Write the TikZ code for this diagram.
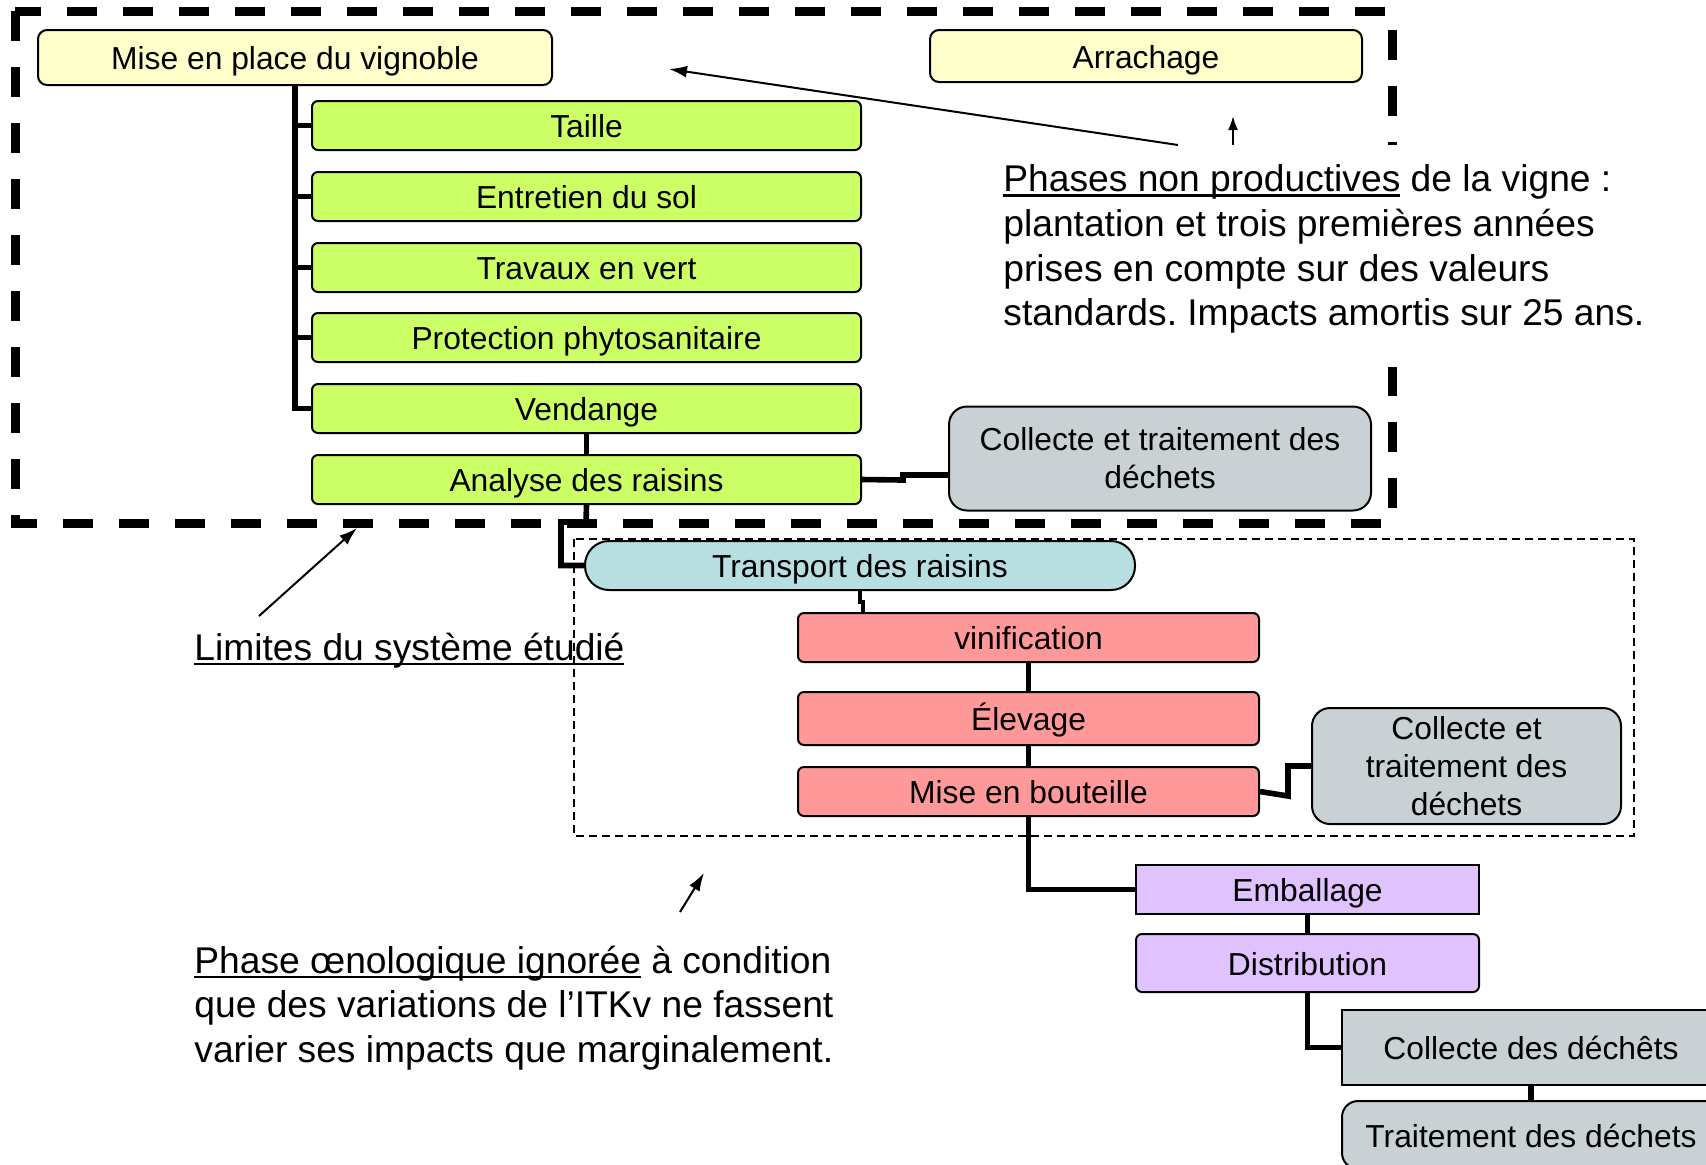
\documentclass[tikz,border=0pt]{standalone}
\usepackage{fontspec}
\setmainfont{Liberation Sans}
\usetikzlibrary{arrows.meta}
\definecolor{yel}{HTML}{FFFFCC}
\definecolor{grn}{HTML}{CCFF66}
\definecolor{gry}{HTML}{C9D1D5}
\definecolor{blu}{HTML}{B7DFE2}
\definecolor{sal}{HTML}{FF9999}
\definecolor{pur}{HTML}{E0C2FF}
\newcommand{\ulx}[1]{\setbox0=\hbox{#1}\rlap{\vrule height -1.3pt depth 2.5pt width \wd0}\box0\relax}
\frenchspacing
\begin{document}
\begin{tikzpicture}[x=0.5pt,y=-0.5pt,
  bx/.style={draw=black,line width=1pt,inner sep=0pt,font=\fontsize{15.9}{19}\selectfont,align=center},
  sl/.style={text height=13.5pt,text depth=1.5pt},
  ybox/.style={bx,sl,fill=yel,rounded corners=4.5pt},
  gbox/.style={bx,sl,fill=grn,rounded corners=3pt,minimum width=274.5pt,minimum height=24.5pt},
  cbox/.style={bx,fill=gry,rounded corners=9pt},
  tbox/.style={bx,sl,fill=blu,rounded corners=12pt},
  sbox/.style={bx,sl,fill=sal,rounded corners=3pt,minimum width=230.5pt},
  pbox/.style={bx,sl,fill=pur,minimum width=171.5pt},
  wbox/.style={bx,sl,fill=gry,minimum width=189pt},
  conn/.style={line width=2.8pt},
  thinconn/.style={line width=1.8pt},
  pointer/.style={line width=1pt,-{Latex[length=9pt,width=6pt]}},
  bigdash/.style={line width=4.5pt,dash pattern=on 15pt off 13pt},
  smalldash/.style={line width=0.8pt,dash pattern=on 4pt off 2.5pt},
  note/.style={font=\fontsize{18.6}{22.3}\selectfont,align=left,inner sep=0pt}
]
\useasboundingbox (0,0) rectangle (1706,1164);
\fill[white] (0,0) rectangle (1706,1164);

% system limits
\draw[bigdash] (15,11) rectangle (1392,523);
\draw[smalldash] (574,539) rectangle (1634,836);

% nodes
\node[ybox,minimum width=257pt,minimum height=27.5pt] (mise) at (295,57.5) {Mise en place du vignoble};
\node[ybox,minimum width=216pt,minimum height=26pt] (arr) at (1146,56) {Arrachage};
\node[gbox] (taille) at (586.5,125.5) {Taille};
\node[gbox] (entretien) at (586.5,196.5) {Entretien du sol};
\node[gbox] (travaux) at (586.5,267.5) {Travaux en vert};
\node[gbox] (protection) at (586.5,337.5) {Protection phytosanitaire};
\node[gbox] (vendange) at (586.5,408.5) {Vendange};
\node[gbox] (analyse) at (586.5,479.5) {Analyse des raisins};
\node[cbox,minimum width=211pt,minimum height=52pt] (collecte1) at (1160,458.5) {Collecte et traitement des\\déchets};
\node[tbox,minimum width=275pt,minimum height=24.5pt] (transport) at (860,565.5) {Transport des raisins};
\node[sbox,minimum height=24.5pt] (vinif) at (1028.5,637.5) {vinification};
\node[sbox,minimum height=26.5pt] (elevage) at (1028.5,718.5) {Élevage};
\node[sbox,minimum height=24.5pt] (bouteille) at (1028.5,791.5) {Mise en bouteille};
\node[cbox,minimum width=154.5pt,minimum height=58pt] (collecte2) at (1466.5,766) {Collecte et\\traitement des\\déchets};
\node[pbox,minimum height=24.5pt] (emballage) at (1307.5,889.5) {Emballage};
\node[pbox,rounded corners=3pt,minimum height=29pt] (distrib) at (1307.5,963) {Distribution};
\node[wbox,minimum height=37.5pt] (collecte3) at (1531,1047.5) {Collecte des déchêts};
\node[wbox,rounded corners=8pt,minimum height=34pt] (traitement) at (1531,1135) {Traitement des déchets};

% connectors
\draw[conn] (mise.south) |- (vendange.west);
\foreach \n in {taille,entretien,travaux,protection}
  \draw[conn] (mise.south |- \n.west) -- (\n.west);
\draw[conn] (vendange.south) -- (analyse.north);
\draw[conn] (analyse.east) -- (903,480) -- (903,475) -- (collecte1.west |- 903,475);
\draw[conn] (analyse.south) -- (586,522) -- (561,522) |- (transport.west);
\draw[thinconn] (transport.south) -- (860,602) -- (863,602) -- (vinif.north -| 863,0);
\draw[conn] (vinif.south) -- (elevage.north);
\draw[conn] (elevage.south) -- (bouteille.north);
\draw[conn] (bouteille.east) -- (1288,796) |- (collecte2.west);
\draw[conn] (bouteille.south) |- (emballage.west);
\draw[conn] (emballage.south) -- (distrib.north);
\draw[conn] (distrib.south) |- (collecte3.west);
\draw[conn] (collecte3.south) -- (traitement.north);

% annotation top right
\node[fill=white,inner sep=0pt,minimum width=342.5pt,minimum height=111pt,anchor=north west] (cover) at (995,145) {};
\coordinate (tipA) at (669,69);
\coordinate (tipB) at (1233,116);
\draw[pointer] (cover.north -| 1178,0) -- (tipA);
\draw[pointer,-{Latex[length=7pt,width=5pt]}] (cover.north -| 1233,0) -- (tipB);
\node[note,anchor=north west] (phases) at (1003,164.5)
  {\ulx{Phases non productives} de la vigne :\\plantation et trois premières années\\prises en compte sur des valeurs\\standards. Impacts amortis sur 25 ans.};

% limits label
\node[note,anchor=base west] (limites) at (194,660) {\ulx{Limites du système étudié}};
\coordinate (limA) at (259,616);
\coordinate (limB) at (357,528);
\draw[pointer] (limA) -- (limB);

% oenological phase
\node[note,anchor=north west] (oeno) at (194,945.5)
  {\ulx{Phase œnologique ignorée} à condition\\que des variations de l’ITKv ne fassent\\varier ses impacts que marginalement.};
\coordinate (oenA) at (680,912);
\coordinate (oenB) at (704,873);
\draw[pointer] (oenA) -- (oenB);
\end{tikzpicture}
\end{document}
